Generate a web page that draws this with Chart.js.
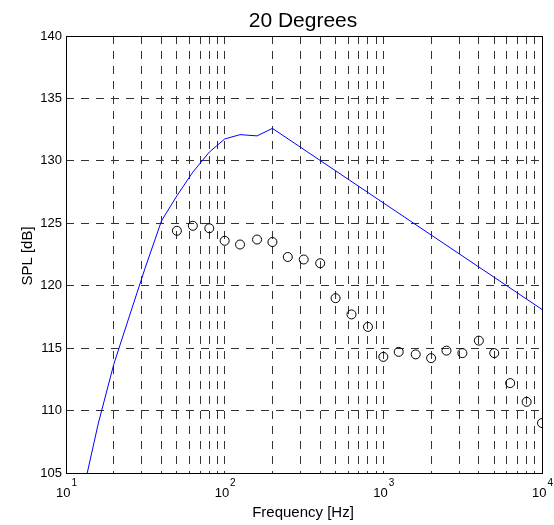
<!DOCTYPE html>
<html>
<head>
<meta charset="utf-8">
<script src="https://cdn.jsdelivr.net/npm/chart.js@4"></script>
<style>
  html, body { margin: 0; padding: 0; background: #fff; }
  canvas { display: block; }
</style>
</head>
<body>
<canvas id="c" width="554" height="525"></canvas>
<script>
// ---- data ----
const chartTitle = '20 Degrees';
const xTitle = 'Frequency [Hz]';
const yTitle = 'SPL [dB]';

// predicted curve (blue line)
const lineFreq = [12.5, 16, 20, 25, 31.5, 40, 50, 63, 80, 100, 125, 160, 200, 10000];
const lineSPL  = [102.9, 109.0, 113.7, 117.5, 121.4, 125.2, 127.2, 129.1, 130.7, 131.75, 132.1, 132.0, 132.6, 118.1];

// measured third-octave values (open circles)
const measFreq = [50, 63, 80, 100, 125, 160, 200, 250, 315, 400, 500, 630, 800,
                  1000, 1250, 1600, 2000, 2500, 3150, 4000, 5000, 6300, 8000, 10000];
const measSPL  = [124.4, 124.8, 124.6, 123.6, 123.3, 123.7, 123.5, 122.3, 122.1, 121.8, 119.0, 117.7, 116.7,
                  114.3, 114.7, 114.5, 114.2, 114.8, 114.6, 115.6, 114.6, 112.2, 110.7, 109.0];

// axis ticks
const xDecades = [10, 100, 1000, 10000];
const xMinorMultipliers = [1, 2, 3, 4, 5, 6, 7, 8, 9];
const xTickValues = [];
for (let i = 0; i < xDecades.length - 1; i++) {
  for (const m of xMinorMultipliers) xTickValues.push(xDecades[i] * m);
}
xTickValues.push(xDecades[xDecades.length - 1]);
const xMajorExponents = [1, 2, 3, 4];
const yMin = 105, yMax = 140, yStep = 5;

const FONT = '"Liberation Sans", Arial, Helvetica, sans-serif';

const overlay = {
  id: 'overlay',
  afterDraw(chart) {
    const { ctx, chartArea: a, scales: { x } } = chart;
    ctx.save();
    // axes box
    ctx.strokeStyle = '#000';
    ctx.lineWidth = 1;
    ctx.setLineDash([]);
    ctx.strokeRect(a.left + 0.5, a.top + 0.5, a.right - a.left, a.bottom - a.top);

    ctx.fillStyle = '#000';
    // title
    ctx.font = '21px ' + FONT;
    ctx.textAlign = 'center';
    ctx.textBaseline = 'alphabetic';
    ctx.fillText(chartTitle, 303, 27);

    // x axis title
    ctx.font = '15px ' + FONT;
    ctx.fillText(xTitle, 303, 517);

    // y axis title
    ctx.save();
    ctx.translate(28, 256);
    ctx.rotate(-Math.PI / 2);
    ctx.textBaseline = 'middle';
    ctx.fillText(yTitle, 0, 0);
    ctx.restore();

    // x tick labels: 10^n
    ctx.textAlign = 'left';
    for (const e of xMajorExponents) {
      const px = x.getPixelForValue(Math.pow(10, e));
      ctx.font = '13px ' + FONT;
      const w1 = ctx.measureText('10').width;
      ctx.font = '10px ' + FONT;
      const w2 = ctx.measureText(String(e)).width;
      const start = px - (w1 + 1 + w2) / 2 + 0.5;
      ctx.font = '13px ' + FONT;
      ctx.fillText('10', start, 496.5);
      ctx.font = '10px ' + FONT;
      ctx.fillText(String(e), start + w1 + 1, 486);
    }
    ctx.restore();
  }
};

new Chart(document.getElementById('c'), {
  type: 'scatter',
  data: {
    datasets: [
      {
        type: 'line',
        label: 'model',
        data: lineFreq.map((f, i) => ({ x: f, y: lineSPL[i] })),
        borderColor: '#0000ff',
        borderWidth: 1,
        pointRadius: 0,
        fill: false,
        tension: 0,
        order: 1
      },
      {
        label: 'measured',
        data: measFreq.map((f, i) => ({ x: f, y: measSPL[i] })),
        showLine: false,
        pointStyle: 'circle',
        pointRadius: 4.5,
        pointBorderWidth: 1,
        borderColor: '#000',
        backgroundColor: 'rgba(0,0,0,0)',
        order: 0
      }
    ]
  },
  options: {
    responsive: false,
    animation: false,
    devicePixelRatio: 1,
    layout: { padding: { left: 0, right: 12, top: 36, bottom: 0 } },
    plugins: {
      legend: { display: false },
      title: { display: false },
      tooltip: { enabled: false }
    },
    scales: {
      x: {
        type: 'logarithmic',
        min: 10,
        max: 10000,
        afterBuildTicks(scale) { scale.ticks = xTickValues.map(v => ({ value: v })); },
        afterFit(scale) { scale.height = 52; },
        ticks: { display: false },
        grid: { color: '#333', lineWidth: 1, drawTicks: false },
        border: { display: false, dash: [8, 7] }
      },
      y: {
        type: 'linear',
        min: yMin,
        max: yMax,
        afterFit(scale) { scale.width = 66; },
        ticks: {
          stepSize: yStep,
          padding: 4,
          color: '#000',
          font: { family: FONT, size: 13 }
        },
        grid: { color: '#333', lineWidth: 1, drawTicks: false },
        border: { display: false, dash: [8, 7] }
      }
    }
  },
  plugins: [overlay]
});
</script>
</body>
</html>
